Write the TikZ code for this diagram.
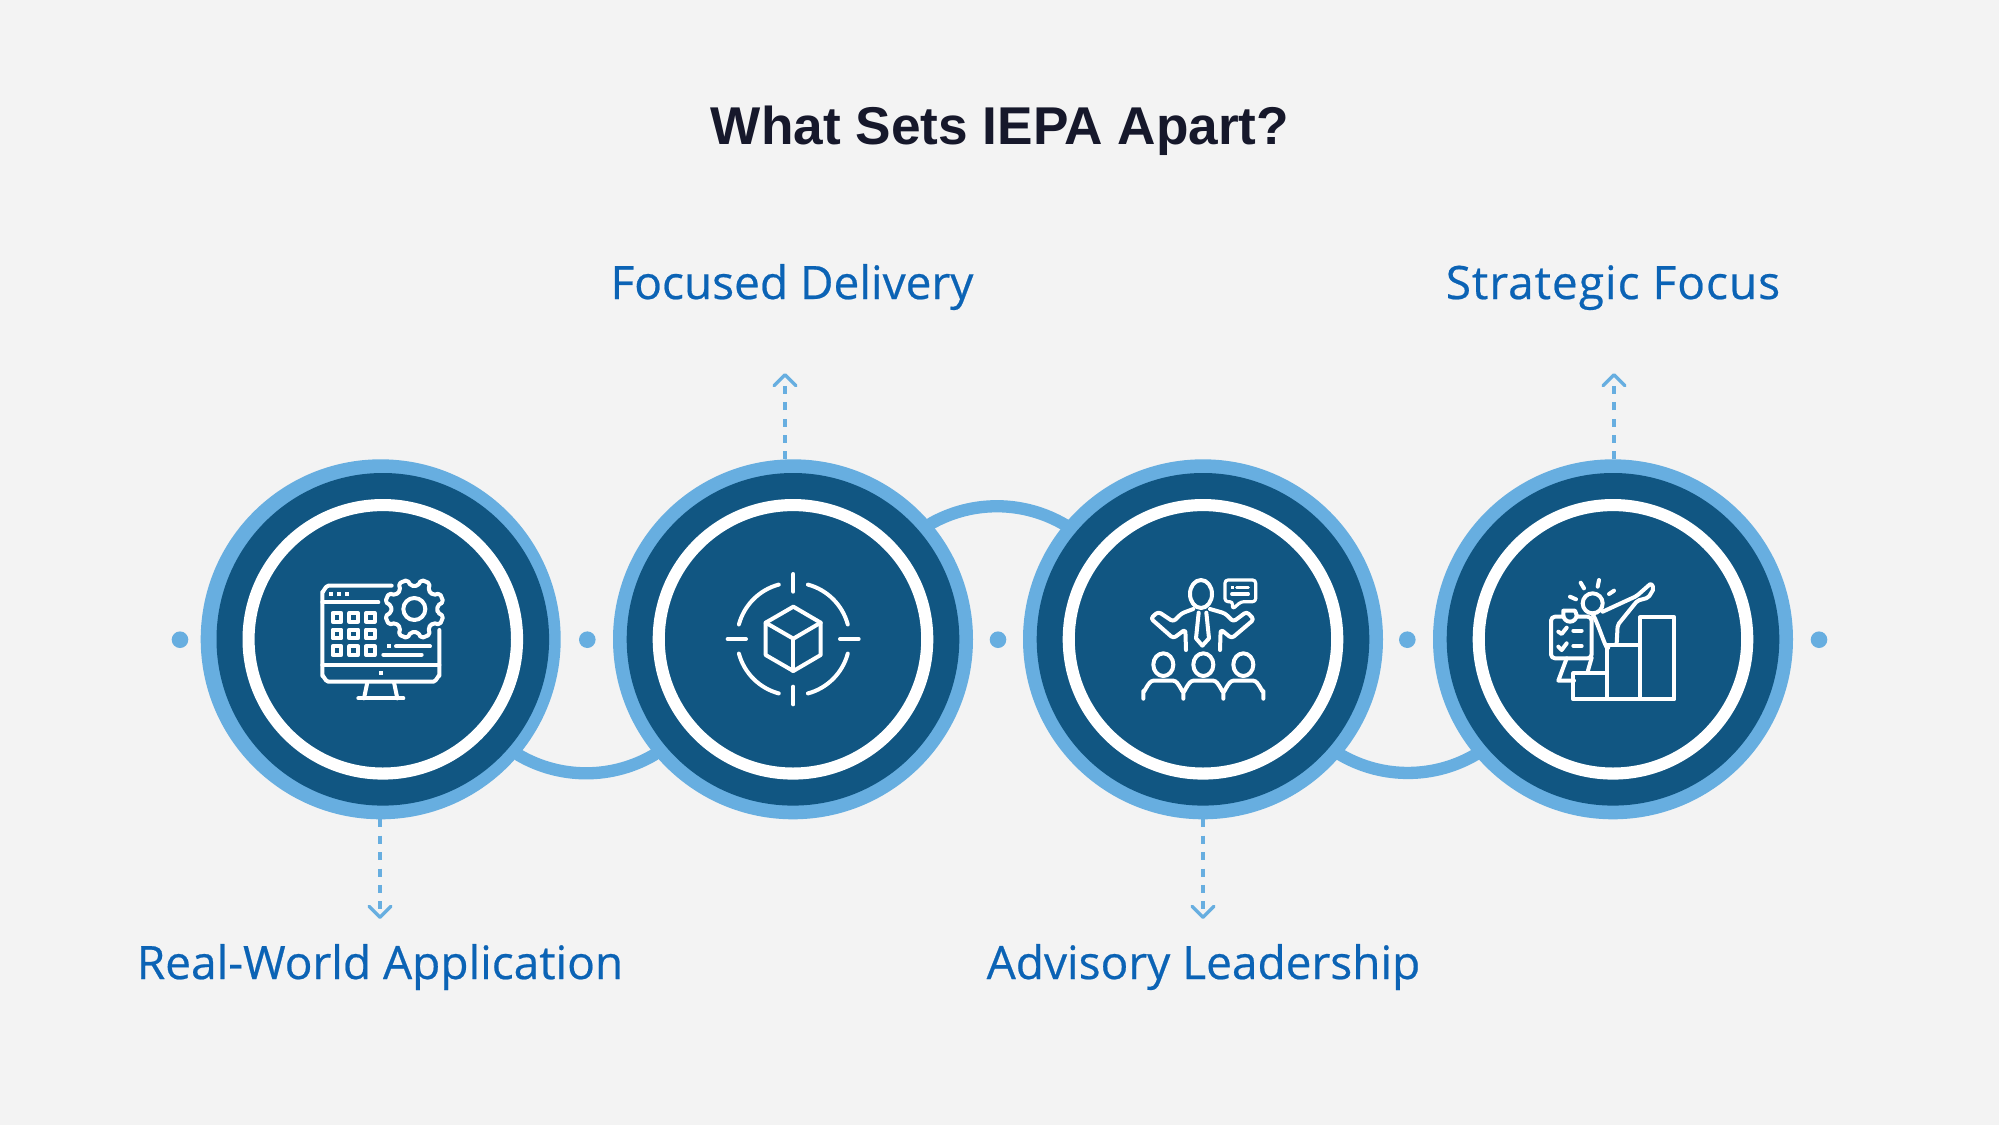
\documentclass[tikz,border=0pt]{standalone}
\usepackage{fontspec}
\usetikzlibrary{arrows.meta,calc}
\setmainfont{Open Sans}
\newfontfamily\titlefont{Liberation Sans}[BoldFont={Liberation Sans Bold}]
\definecolor{bgc}{HTML}{F3F3F3}
\definecolor{ringc}{HTML}{67AEE0}
\definecolor{darkc}{HTML}{115682}
\definecolor{labelc}{HTML}{0B63B5}
\definecolor{titlec}{HTML}{16182B}
\tikzset{
  disc/.style={circle,fill=ringc,minimum size=180pt,inner sep=0pt,outer sep=0pt},
  core/.style={circle,fill=darkc,minimum size=166.3pt,inner sep=0pt,outer sep=0pt},
  halo/.style={circle,draw=white,line width=6.05pt,minimum size=134.25pt,inner sep=0pt},
  link/.style={draw=ringc,line width=6.15pt,line cap=round},
  pin/.style={circle,fill=ringc,minimum size=8.3pt,inner sep=0pt},
  lead/.style={draw=ringc,line width=1.7pt,dash pattern=on 4pt off 4.2pt,-{Straight Barb[length=5.5pt,width=11pt,line width=1.7pt,round]}},
  label/.style={font=\fontsize{23pt}{26pt}\selectfont\addfontfeature{FakeBold=0.5},text=labelc,anchor=base,inner sep=0pt},
  zoomed/.style={x=.16667pt,y=-.16667pt},
  ico/.style={draw=white,line width=2pt,line cap=round,line join=round},
  icothin/.style={ico,line width=1.6pt},
  icodot/.style={fill=white},
}
\begin{document}
\begin{tikzpicture}[x=.5pt,y=-.5pt]
\useasboundingbox (0,0) rectangle (1999,1125);
\fill[bgc] (0,0) rectangle (1999,1125);

\node[font=\titlefont\bfseries\fontsize{26.6pt}{32pt}\selectfont,text=titlec,anchor=base,inner sep=0pt] (title) at (1000,144) {What Sets IEPA Apart?};

\node[disc] (c1) at (380.7,639.3) {};
\node[disc] (c2) at (793,639.3) {};
\node[disc] (c3) at (1203,639.3) {};
\node[disc] (c4) at (1613,639.3) {};
\node[core] (k1) at (382.8,639.3) {};
\node[core] (k2) at (793,639.3) {};
\node[core] (k3) at (1203,639.3) {};
\node[core] (k4) at (1613,639.3) {};
\node[halo] (h1) at (k1) {};
\node[halo] (h2) at (k2) {};
\node[halo] (h3) at (k3) {};
\node[halo] (h4) at (k4) {};

% connecting arcs
\draw[link] (c1.-40.04) arc[start angle=120.3,end angle=59.2,radius=134];
\draw[link] (c2.40.4) arc[start angle=-119.5,end angle=-59.2,radius=134];
\draw[link] (c3.-40.1) arc[start angle=120,end angle=59,radius=134];

% dots
\node[pin] (d1) at (180,639.7) {};
\node[pin] (d2) at (587.3,639.7) {};
\node[pin] (d3) at (998,639.7) {};
\node[pin] (d4) at (1407.3,639.7) {};
\node[pin] (d5) at (1819,639.7) {};

% leaders
\coordinate (t1) at (380,919);
\coordinate (t2) at (785,373);
\coordinate (t3) at (1203,919);
\coordinate (t4) at (1614,373);
\draw[lead] (t1 |- c1.south) -- (t1);
\draw[lead] (t2 |- c2.north) -- (t2);
\draw[lead] (t3 |- c3.south) -- (t3);
\draw[lead] (t4 |- c4.north) -- (t4);

% labels
\node[label] (l1) at (380,979) {Real-World Application};
\node[label] (l2) at (792,299) {Focused Delivery};
\node[label] (l3) at (1203.5,979) {Advisory Leadership};
\node[label] (l4) at (1613,299) {\addfontfeature{LetterSpace=2.2}Strategic Focus};

% icon 1
\begin{scope}[shift={(290,550)},zoomed]
\draw[ico] (305,107) -- (115,107) to[out=180,in=-90] (97,125) -- (97,378) to[out=90,in=180] (115,395) -- (430,395) to[out=0,in=90] (448,378) -- (448,240);
\draw[ico] (97,345) -- (448,345);
\draw[ico] (97,157) -- (265,157);
\foreach \x in {122,147,172} \fill[icodot] (\x-6,127) rectangle +(12,12);
\foreach \x in {141,191,241} \foreach \y in {202,252,302} \draw[ico] (\x-13,\y-13) rectangle +(26,26);
\fill[icodot] (291,283) rectangle +(12,12);
\fill[icodot] (266,364) rectangle +(12,12);
\draw[ico] (318,289) -- (420,289);
\draw[ico] (280,314) -- (395,314);
\draw[ico] (232,397) -- (222,445);
\draw[ico] (312,397) -- (322,445);
\draw[ico] (205,445) -- (340,445);
\begin{scope}[shift={(373,177)}]
\draw[ico] (0,0) circle (33);
\draw[ico,rounded corners=1pt] (8.5:70)
  \foreach \a in {22.5,67.5,...,337.5} { -- (\a-14:70) -- (\a-9:90) -- (\a+9:90) -- (\a+14:70) } -- cycle;
\end{scope}
\end{scope}

% icon 2
\begin{scope}[shift={(700,550)},zoomed]
\draw[ico] (280,72) -- (280,125);
\draw[ico] (280,410) -- (280,463);
\draw[ico] (83,267) -- (138,267);
\draw[ico] (420,267) -- (476,267);
\foreach \q in {0,90,180,270}
  \draw[ico] ($(280,267)+(\q+15:169)$) arc[start angle=\q+15,end angle=\q+75,radius=169];
\draw[ico] (280,170) -- (362,218) -- (362,315) -- (280,363) -- (197,315) -- (197,218) -- cycle;
\draw[ico] (197,218) -- (280,266) -- (362,218);
\draw[ico] (280,266) -- (280,363);
\end{scope}

% icon 3
\begin{scope}[shift={(1110,560)},zoomed]
\draw[ico] (273,102) ellipse [x radius=33,y radius=42];
\draw[ico,rounded corners=1.5pt] (250,147) -- (215,160) -- (190,185) -- (145,155) -- (122,175) -- (190,235) -- (226,208) -- (228,270);
\draw[ico,rounded corners=1.5pt] (300,147) -- (345,160) -- (370,185) -- (410,155) -- (432,178) -- (365,235) -- (332,208) -- (330,270);
\draw[ico] (266,158) -- (258,235) -- (277,257) -- (297,235) -- (289,158);
\draw[icothin,rounded corners=1.5pt] (368,125) -- (345,125) -- (345,60) -- (437,60) -- (437,125) -- (393,125) -- (367,148) -- cycle;
\draw[icothin] (380,82) -- (415,82);
\draw[icothin] (365,102) -- (415,102);
\fill[icodot] (363,77) rectangle +(10,10);
\foreach \x in {160,280,400} \draw[ico] (\x,314) ellipse [x radius=30,y radius=34];
\draw[ico] (100,416) -- (100,392) to[out=-90,in=180] (130,362) -- (190,362) to[out=0,in=-90] (220,392) -- (220,416);
\draw[ico] (220,392) to[out=-90,in=180] (250,362) -- (310,362) to[out=0,in=-90] (340,392) -- (340,416);
\draw[ico] (340,392) to[out=-90,in=180] (370,362) -- (430,362) to[out=0,in=-90] (460,392) -- (460,416);
\end{scope}

% icon 4
\begin{scope}[shift={(1520,560)},zoomed]
\draw[ico] (160,340) rectangle (260,418);
\draw[ico] (260,255) rectangle (360,418);
\draw[ico] (360,172) rectangle (463,418);
\draw[ico] (218,130) circle (30);
\draw[ico] (182,68) -- (192,85);
\draw[ico] (237,60) -- (233,80);
\draw[ico] (282,92) -- (267,102);
\draw[ico] (150,110) -- (168,118);
\draw[ico,rounded corners=1pt] (248,155) -- (350,108) -- (393,70) -- (402,85) -- (385,113) -- (352,122) -- (293,195) -- (290,250);
\draw[ico] (218,162) to[out=-60,in=-90] (265,255);
\draw[ico] (215,293) -- (203,335);
\draw[ico,rounded corners=2pt] (130,170) -- (93,170) -- (93,295) -- (215,295) -- (215,170) -- (170,170);
\draw[ico] (130,165) -- (130,152) -- (165,152) -- (170,165) arc[start angle=0,end angle=180,radius=20];
\draw[ico] (115,215) -- (125,222) -- (140,203);
\draw[ico] (160,212) -- (185,212);
\draw[ico] (115,260) -- (125,270) -- (140,250);
\draw[ico] (160,258) -- (185,258);
\draw[ico] (140,295) -- (115,362) -- (162,362);
\end{scope}
\end{tikzpicture}
\end{document}
